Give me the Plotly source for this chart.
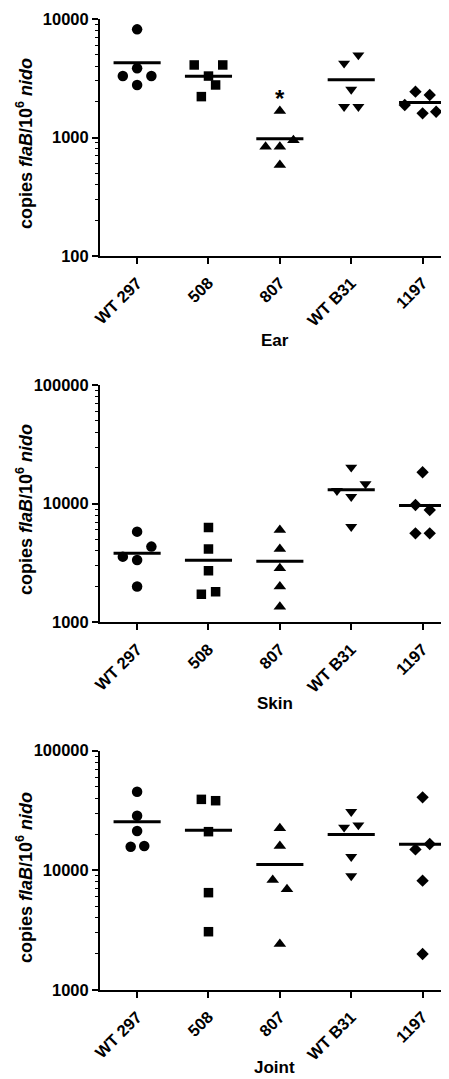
import numpy as np
import plotly.graph_objects as go

categories = ["WT 297", "508", "807", "WT B31", "1197"]

# copies flaB / 10^6 nido, one list per strain
ear_wt297 = [8180, 3840, 3300, 3300, 2775]
ear_508 = [4094, 4094, 3300, 2775, 2213]
ear_807 = [1675, 837, 837, 949, 587]
ear_wtb31 = [4965, 4227, 2547, 1820, 1820]
ear_1197 = [2437, 2286, 1879, 1600, 1651]

skin_wt297 = [5807, 4345, 3575, 3350, 2000]
skin_508 = [6280, 4150, 2725, 1722, 1813]
skin_807 = [6000, 4150, 2850, 2000, 1355]
skin_wtb31 = [20250, 14650, 12850, 11450, 6390]
skin_1197 = [18380, 9750, 8840, 5623, 5623]

joint_wt297 = [45400, 28640, 21320, 15770, 15970]
joint_508 = [39200, 38200, 21050, 6510, 3070]
joint_807 = [22440, 15970, 8300, 6940, 2423]
joint_wtb31 = [30900, 22870, 23930, 13000, 8970]
joint_1197 = [40740, 16600, 14970, 8200, 2000]

# horizontal scatter offsets of the points (layout only)
ear_dx = [[0, 0, -0.2, 0.2, 0], [-0.2, 0.2, 0, 0.1, -0.1], [0, -0.2, 0, 0.19, 0],
          [0.1, -0.1, 0, -0.1, 0.1], [-0.1, 0.1, -0.25, 0, 0.19]]
skin_dx = [[0, 0.2, -0.2, 0, 0], [0, 0, 0, -0.1, 0.1], [0, 0, 0, 0, 0],
           [0, 0.2, -0.2, 0, 0], [0, -0.1, 0.1, -0.1, 0.1]]
joint_dx = [[0, 0, 0, -0.09, 0.1], [-0.1, 0.1, 0, 0, 0], [0, 0, -0.1, 0.1, 0],
            [0, -0.1, 0.1, 0, 0], [0, 0.1, -0.1, 0, 0]]

symbols = ["circle", "square", "triangle-up", "triangle-down", "diamond"]
msizes = [10.5, 9.5, 11, 10.5, 9.5]

FONT = "Arial, 'Liberation Sans', sans-serif"
# the page body has an 8px margin; the figure is sized to fill the rest of the window
OFF = 8
W, H = 449 - OFF, 1079 - OFF
AXX = 100  # page x of the y axis line
L = AXX - OFF


def py(page_y):
    return 1 - (page_y - OFF) / H


panels = [
    dict(title="Ear", groups=[ear_wt297, ear_508, ear_807, ear_wtb31, ear_1197], dx=ear_dx,
         yr=[2, 4], top=19.0, bot=256.0, tpx=340, ytpx=144),
    dict(title="Skin", groups=[skin_wt297, skin_508, skin_807, skin_wtb31, skin_1197], dx=skin_dx,
         yr=[3, 5], top=385.0, bot=622.3, tpx=703, ytpx=510),
    dict(title="Joint", groups=[joint_wt297, joint_508, joint_807, joint_wtb31, joint_1197], dx=joint_dx,
         yr=[3, 5], top=750.7, bot=990.0, tpx=1067, ytpx=878),
]

fig = go.Figure()
annotations = []
layout = {}
for p_i, p in enumerate(panels):
    sfx = "" if p_i == 0 else str(p_i + 1)
    xa, ya = "x" + sfx, "y" + sfx
    for g_i, vals in enumerate(p["groups"]):
        xs = [g_i + d for d in p["dx"][g_i]]
        fig.add_trace(go.Scatter(x=xs, y=vals, mode="markers", xaxis=xa, yaxis=ya,
                                 marker=dict(symbol=symbols[g_i], size=msizes[g_i], color="black",
                                             line=dict(width=0)),
                                 showlegend=False, hoverinfo="skip"))
        m = float(np.mean(vals))
        fig.add_trace(go.Scatter(x=[g_i - 0.33, g_i + 0.33], y=[m, m], mode="lines",
                                 xaxis=xa, yaxis=ya, line=dict(color="black", width=3),
                                 showlegend=False, hoverinfo="skip"))
    dom = [py(p["bot"]), py(p["top"])]
    lo, hi = p["yr"]
    major = [10 ** k for k in range(lo, hi + 1)]
    minor = [m * 10 ** k for k in range(lo, hi) for m in range(2, 10)]
    layout["xaxis" + sfx] = dict(
        domain=[0, 1], anchor=ya, range=[-0.52, 4.37], tickmode="array",
        tickvals=list(range(len(categories))), ticktext=categories, tickangle=-45,
        showline=True, linewidth=2, linecolor="black", ticks="outside", ticklen=6,
        tickwidth=2, tickcolor="black", showgrid=False, zeroline=False, automargin=False,
        ticklabelstandoff=3,
        tickfont=dict(family=FONT, size=16.5, color="black", weight="bold"), fixedrange=True)
    layout["yaxis" + sfx] = dict(
        domain=dom, anchor=xa, type="log", range=[lo, hi], tickmode="array",
        tickvals=major, ticktext=[str(v) for v in major],
        showline=True, linewidth=2, linecolor="black", ticks="outside", ticklen=6,
        tickwidth=2, tickcolor="black", showgrid=False, zeroline=False, automargin=False,
        minor=dict(tickmode="array", tickvals=minor, ticks="outside", ticklen=3,
                   tickwidth=1, tickcolor="black", showgrid=False),
        tickfont=dict(family=FONT, size=16.5, color="black", weight="bold"), fixedrange=True)
    annotations.append(dict(
        text=p["title"], xref="paper", yref="paper", x=0.5,
        y=py(p["tpx"]), xanchor="center", yanchor="middle", showarrow=False,
        font=dict(family=FONT, size=17, color="black", weight="bold")))
    annotations.append(dict(
        text="copies <i>flaB</i>/10<sup>6</sup> <i>nido</i>", xref="paper", yref="paper",
        x=(24 - AXX) / (W - L), y=py(p["ytpx"]), xanchor="center", yanchor="middle",
        textangle=-90, showarrow=False,
        font=dict(family=FONT, size=18, color="black", weight="bold")))

annotations.append(dict(text="*", xref="x", yref="y", x=2, y=np.log10(2150), showarrow=False,
                        xanchor="center", yanchor="middle",
                        font=dict(family=FONT, size=24, color="black", weight="bold")))

fig.update_layout(
    width=W, height=H, margin=dict(l=L, r=0, t=0, b=0),
    paper_bgcolor="white", plot_bgcolor="white", template="none",
    annotations=annotations, showlegend=False, **layout)

fig.write_html("out.html", config={"displayModeBar": False})
